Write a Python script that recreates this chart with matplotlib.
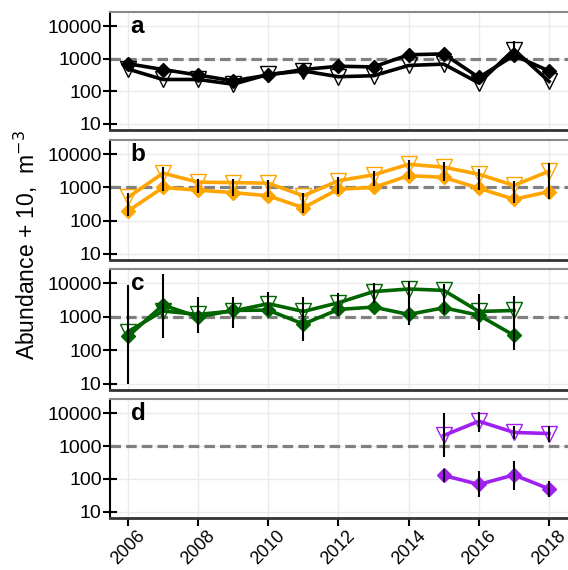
import numpy as np
import matplotlib.pyplot as plt
from matplotlib.ticker import LogLocator, NullFormatter, FixedLocator

plt.rcParams['font.family'] = ['Liberation Sans', 'DejaVu Sans']

nan = np.nan
years = np.arange(2006, 2019)

# panel a
a_dia = [700, 465, 315, 210, 315, 465, 585, 560, 1320, 1400, 265, 1260, 420]
a_tri = [480, 230, 230, 165, 330, 420, 280, 300, 620, 680, 180, 1900, 200]
a_lo = [nan, nan, nan, nan, nan, nan, nan, nan, nan, nan, nan, 1000, nan]
a_hi = [nan, nan, nan, nan, nan, nan, nan, nan, nan, nan, nan, 3600, nan]
a_lo2 = [nan] * 13
a_hi2 = [nan] * 13

# panel b
b_dia = [193, 1000, 830, 700, 560, 245, 890, 1000, 2270, 2020, 950, 440, 750]
b_tri = [500, 2700, 1450, 1400, 1350, 560, 1600, 2400, 5000, 4100, 2500, 1150, 3100]
b_lo = [135, 790, 700, 560, 500, 170, 625, 1120, 1800, 1600, 830, 350, 440]
b_hi = [700, 4100, 1800, 1800, 1680, 700, 2120, 3240, 6550, 5800, 3640, 1600, 5550]
b_lo2 = [nan] * 13
b_hi2 = [nan] * 13

# panel c
c_dia = [260, 2260, 1000, 1560, 1590, 610, 1670, 1960, 1180, 1870, 1120, 280, nan]
c_tri = [360, 1500, 1180, 1500, 2480, 1450, 2650, 5700, 6800, 6200, 1450, 1550, nan]
c_lo = [10, 230, 330, 460, 1170, 185, 1050, 2650, 590, 1180, 410, 100, nan]
c_hi = [9100, 19000, 3800, 4000, 5700, 4000, 5300, 10000, 11500, 9500, 4800, 4200, nan]
c_lo2 = [nan] * 13
c_hi2 = [nan] * 13

# panel d
d_dia = [nan] * 9 + [128, 68, 133, 50]
d_tri = [nan] * 9 + [2100, 5700, 2600, 2400]
d_lo = [nan] * 9 + [79, 28, 47, 28]
d_hi = [nan] * 9 + [200, 180, 360, 89]
d_lo2 = [nan] * 9 + [460, 2670, 1670, 1320]
d_hi2 = [nan] * 9 + [10000, 11200, 4050, 4050]

letters = ['a', 'b', 'c', 'd']
colors = ['black', '#FFA500', '#006400', '#A020F0']
panels = [
    (a_dia, a_tri, a_lo, a_hi, a_lo2, a_hi2),
    (b_dia, b_tri, b_lo, b_hi, b_lo2, b_hi2),
    (c_dia, c_tri, c_lo, c_hi, c_lo2, c_hi2),
    (d_dia, d_tri, d_lo, d_hi, d_lo2, d_hi2),
]

W, H = 568, 570
boxes = [(12, 130), (140, 260), (269, 390), (399, 518)]
left = 110

fig = plt.figure(figsize=(W / 100, H / 100), dpi=100)

for i, (dia, tri, lo, hi, lo2, hi2) in enumerate(panels):
    top, bot = boxes[i]
    ax = fig.add_axes([left / W, 1 - bot / H, (W - left) / W, (bot - top) / H])
    col = colors[i]

    ax.axhline(1000, color='#808080', lw=2.3, ls=(0, (3.3, 1.6)), zorder=2)
    ax.plot(years, tri, color=col, lw=2.6, marker='v', ms=11.5,
            mfc='none', mec=col, mew=1, zorder=3)
    ax.plot(years, dia, color=col, lw=2.6, marker='D', ms=7.5,
            mfc=col, mec=col, zorder=4)
    ax.vlines(years, lo, hi, color='black', lw=1.5, zorder=5)
    ax.vlines(years, lo2, hi2, color='black', lw=1.5, zorder=5)

    ax.set_yscale('log')
    ax.set_ylim(6.5, 27000)
    ax.set_xlim(2005.49, 2018.54)
    ax.yaxis.set_major_locator(FixedLocator([10, 100, 1000, 10000]))
    ax.set_yticklabels(['10', '100', '1000', '10000'])
    ax.yaxis.set_minor_locator(LogLocator(base=10, subs=np.arange(2, 10)))
    ax.yaxis.set_minor_formatter(NullFormatter())
    ax.set_xticks(np.arange(2006, 2019, 2))
    ax.grid(True, which='major', color='#ebebeb', lw=1, zorder=0)
    ax.set_axisbelow(True)

    ax.tick_params(axis='y', which='major', direction='inout', length=10,
                   width=1.5, labelsize=14, pad=1)
    ax.tick_params(axis='y', which='minor', direction='in', length=5, width=1)
    if i == 3:
        ax.tick_params(axis='x', direction='out', length=6, width=1.5,
                       labelsize=13, labelrotation=45, pad=1)
    else:
        ax.tick_params(axis='x', length=0, labelbottom=False)

    ax.spines['left'].set_linewidth(1.5)
    ax.spines['bottom'].set_linewidth(2)
    ax.spines['bottom'].set_color('#333333')
    ax.spines['top'].set_color('#888888')
    ax.spines['top'].set_linewidth(1.5)
    ax.spines['right'].set_visible(False)

    ax.text(0.045, 0.975, letters[i], transform=ax.transAxes, fontsize=17.5,
            fontweight='bold', va='top', ha='left')

fig.text(0.045, 0.57, 'Abundance + 10,  m$^{-3}$', rotation=90,
         fontsize=16.5, va='center', ha='center')

fig.savefig('out.png', dpi=100)
